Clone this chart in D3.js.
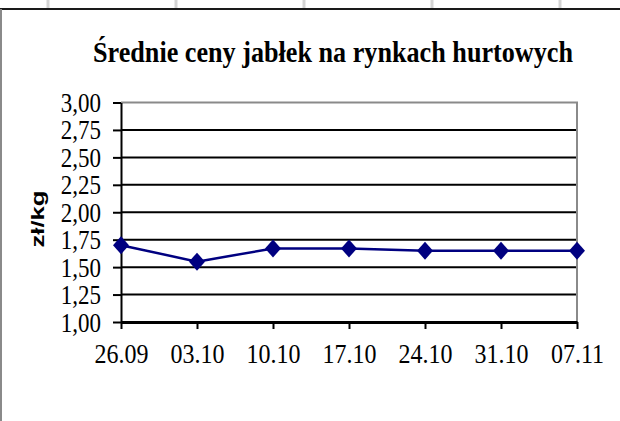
<!DOCTYPE html>
<html lang="pl">
<head>
<meta charset="utf-8">
<title>Średnie ceny jabłek</title>
<script src="https://cdn.jsdelivr.net/npm/d3@7"></script>
<style>
  body { margin: 0; background: #fff; }
</style>
</head>
<body>
<script>
// data
var weeks = ["26.09", "03.10", "10.10", "17.10", "24.10", "31.10", "07.11"];
var prices = [1.70, 1.55, 1.67, 1.67, 1.65, 1.65, 1.65];
var yTicks = [1.00, 1.25, 1.50, 1.75, 2.00, 2.25, 2.50, 2.75, 3.00];
var sheetCols = [48, 176, 304, 432, 560];

var width = 620, height = 421;
var plotLeft = 121, plotRight = 577, plotTop = 102.5, plotBottom = 322;
var stretch = 1.15; // the reference type is a bit taller than it is wide

var svg = d3.select("body").append("svg")
  .attr("width", width)
  .attr("height", height);

svg.append("rect")
  .attr("width", width).attr("height", height)
  .attr("fill", "white");

// spreadsheet column lines peeking above the chart
svg.selectAll("line.sheet")
  .data(sheetCols)
  .enter().append("line")
  .attr("x1", function(d) { return d; })
  .attr("x2", function(d) { return d; })
  .attr("y1", 0).attr("y2", 8)
  .attr("stroke", "#d4d4d4")
  .attr("stroke-width", 3);

// chart frame
svg.append("line")
  .attr("x1", 0).attr("x2", width).attr("y1", 9).attr("y2", 9)
  .attr("stroke", "#1a1a1a").attr("stroke-width", 2);
svg.append("line")
  .attr("x1", 1).attr("x2", 1).attr("y1", 9).attr("y2", height)
  .attr("stroke", "#8a8a8a").attr("stroke-width", 2);

// title
svg.append("text")
  .attr("transform", "translate(93,62) scale(1,1.2)")
  .attr("textLength", 480)
  .attr("lengthAdjust", "spacingAndGlyphs")
  .attr("font-family", "'Liberation Serif', 'Times New Roman', serif")
  .attr("font-weight", "bold")
  .attr("font-size", 25)
  .text("Średnie ceny jabłek  na rynkach hurtowych");

var x = d3.scalePoint().domain(weeks).range([plotLeft, plotRight]).padding(0);
var y = d3.scaleLinear().domain([1, 3]).range([plotBottom, plotTop]);

// gridlines
svg.selectAll("line.grid")
  .data(yTicks.filter(function(d) { return d > 1 && d < 3; }))
  .enter().append("line")
  .attr("x1", plotLeft).attr("x2", plotRight)
  .attr("y1", function(d) { return y(d); })
  .attr("y2", function(d) { return y(d); })
  .attr("stroke", "black")
  .attr("stroke-width", 2);

// plot area border (top + right, gray)
svg.append("path")
  .attr("d", "M" + plotLeft + "," + y(3) + "H" + plotRight + "V" + plotBottom)
  .attr("fill", "none")
  .attr("stroke", "#8a8a8a")
  .attr("stroke-width", 2);

var fmt = d3.format(".2f");

var yAxis = svg.append("g")
  .attr("transform", "translate(" + plotLeft + ",0)")
  .call(d3.axisLeft(y).tickValues(yTicks)
    .tickFormat(function(d) { return fmt(d).replace(".", ","); })
    .tickSizeInner(8).tickSizeOuter(0).tickPadding(12));
yAxis.select(".domain").attr("stroke", "black").attr("stroke-width", 2);
yAxis.selectAll(".tick line").attr("stroke", "black").attr("stroke-width", 2);
yAxis.selectAll(".tick text")
  .attr("fill", "black")
  .attr("font-family", "'Liberation Serif', 'Times New Roman', serif")
  .attr("font-size", 23)
  .attr("dy", "0.34em")
  .attr("transform", "scale(1," + stretch + ")");

var xAxis = svg.append("g")
  .attr("transform", "translate(0," + plotBottom + ")")
  .call(d3.axisBottom(x).tickSizeInner(7).tickSizeOuter(0).tickPadding(12));
xAxis.select(".domain").attr("stroke", "black").attr("stroke-width", 3);
xAxis.selectAll(".tick line").attr("stroke", "black").attr("stroke-width", 2);
xAxis.selectAll(".tick text")
  .attr("fill", "black")
  .attr("font-family", "'Liberation Serif', 'Times New Roman', serif")
  .attr("font-size", 24)
  .attr("transform", "scale(1," + stretch + ")");

// y axis title
svg.append("text")
  .attr("transform", "translate(44,219) rotate(-90)")
  .attr("text-anchor", "middle")
  .attr("textLength", 57)
  .attr("lengthAdjust", "spacingAndGlyphs")
  .attr("font-family", "'Liberation Sans', Arial, sans-serif")
  .attr("font-weight", "bold")
  .attr("font-size", 19)
  .text("zł/kg");

// series
var pts = weeks.map(function(w, i) { return [x(w), y(prices[i])]; });
svg.append("path")
  .attr("d", d3.line()(pts))
  .attr("fill", "none")
  .attr("stroke", "#000080")
  .attr("stroke-width", 2.5);

svg.selectAll("path.marker")
  .data(pts)
  .enter().append("path")
  .attr("class", "marker")
  .attr("d", function(d) {
    return "M" + d[0] + "," + (d[1] - 9) + "L" + (d[0] + 8) + "," + d[1] +
      "L" + d[0] + "," + (d[1] + 9) + "L" + (d[0] - 8) + "," + d[1] + "Z";
  })
  .attr("fill", "#000080");
</script>
</body>
</html>
